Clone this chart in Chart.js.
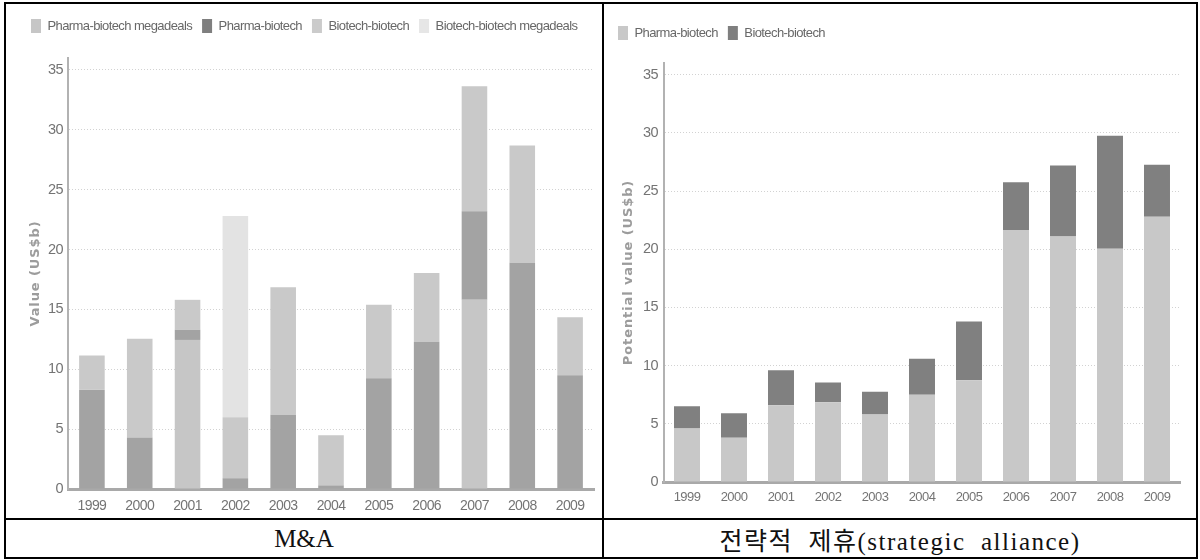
<!DOCTYPE html>
<html>
<head>
<meta charset="utf-8">
<title>Pharma / biotech deals 1999-2009</title>
<script src="https://cdn.jsdelivr.net/npm/chart.js@4/dist/chart.umd.min.js"></script>
<style>
  html, body { margin: 0; padding: 0; background: #fff; }
  body { width: 1200px; height: 560px; position: relative; overflow: hidden; }
  .rule { position: absolute; background: #000; }
  canvas { position: absolute; }
  .caption {
    position: absolute; top: 520px; height: 37px;
    display: flex; align-items: center; justify-content: center;
    font-family: 'Liberation Serif', 'Noto Sans CJK KR', serif;
    font-size: 25px; color: #111; white-space: pre;
  }
</style>
</head>
<body>
<!-- table frame -->
<div class="rule" style="left:4px;top:2px;width:1194px;height:2px"></div>
<div class="rule" style="left:4px;top:557px;width:1194px;height:2px"></div>
<div class="rule" style="left:4px;top:2px;width:2px;height:557px"></div>
<div class="rule" style="left:1196px;top:2px;width:2px;height:557px"></div>
<div class="rule" style="left:602px;top:2px;width:2px;height:557px"></div>
<div class="rule" style="left:4px;top:518px;width:1194px;height:2px"></div>

<canvas id="ma" width="596" height="514" style="left:6px;top:4px"></canvas>
<canvas id="alliance" width="592" height="514" style="left:604px;top:4px"></canvas>

<div class="caption" style="left:6px;width:596px">M&amp;A</div>
<div class="caption" style="left:604px;width:592px;letter-spacing:1.5px">전략적  제휴(strategic  alliance)</div>

<script>
// Years on the category axis
const years = ['1999', '2000', '2001', '2002', '2003', '2004', '2005', '2006', '2007', '2008', '2009'];

// M&A value, US$b
const maPharmaMega   = [0, 0, 12.45, 0, 0, 0, 0, 0, 15.8, 0, 0];
const maPharma       = [8.3, 4.3, 0.85, 0.9, 6.2, 0.3, 9.25, 12.3, 7.4, 18.9, 9.5];
const maBiotech      = [2.85, 8.25, 2.5, 5.1, 10.65, 4.2, 6.15, 5.75, 10.45, 9.8, 4.85];
const maBiotechMega  = [0, 0, 0, 16.8, 0, 0, 0, 0, 0, 0, 0];

// Strategic alliances, potential value, US$b
const alPharma  = [4.6, 3.8, 6.6, 6.85, 5.8, 7.5, 8.75, 21.65, 21.1, 20.05, 22.8];
const alBiotech = [1.9, 2.1, 3.0, 1.7, 1.95, 3.1, 5.05, 4.1, 6.1, 9.7, 4.45];

// Value axis ticks
const valueTicks = [0, 5, 10, 15, 20, 25, 30, 35];

const SANS = "'Liberation Sans', Arial, sans-serif";

// Adds extra room between the legend and the plot area
const legendGap = {
  id: 'legendGap',
  beforeLayout(chart, args, opts) {
    const lg = chart.legend;
    if (lg && !lg.__gapPatched) {
      const fit = lg.fit;
      lg.fit = function () { fit.call(this); this.height += (opts.gap || 0); };
      lg.__gapPatched = true;
    }
  }
};

// Tight letter spacing for labels, looser spacing for the value-axis title
const textSpacing = {
  id: 'textSpacing',
  beforeLayout(chart, args, opts) { chart.ctx.letterSpacing = opts.base; },
  beforeDraw(chart, args, opts) {
    chart.ctx.letterSpacing = opts.base;
    const y = chart.scales.y;
    if (y && !y.__spaced) {
      const drawTitle = y.drawTitle;
      y.drawTitle = function () {
        const ctx = this.ctx;
        const prev = ctx.letterSpacing;
        ctx.letterSpacing = opts.title;
        drawTitle.call(this);
        ctx.letterSpacing = prev;
      };
      y.__spaced = true;
    }
  }
};

function makeChart(id, cfg) {
  const legendFill = cfg.legendFill;
  return new Chart(document.getElementById(id), {
    type: 'bar',
    data: {
      labels: years,
      datasets: cfg.datasets.map(d => ({
        label: d.label,
        data: d.data,
        backgroundColor: d.color,
        borderWidth: 0,
        categoryPercentage: 1,
        barPercentage: cfg.barPct
      }))
    },
    plugins: [legendGap, textSpacing],
    options: {
      responsive: false,
      devicePixelRatio: 1,
      animation: false,
      layout: { padding: cfg.padding },
      plugins: {
        tooltip: { enabled: false },
        legendGap: { gap: cfg.gap },
        textSpacing: { base: '-0.6px', title: '0.9px' },
        legend: {
          position: 'top',
          align: 'start',
          labels: {
            boxWidth: 10,
            boxHeight: 14,
            padding: 10,
            color: '#686868',
            font: { family: SANS, size: 13 },
            generateLabels(chart) {
              const items = Chart.defaults.plugins.legend.labels.generateLabels(chart);
              items.forEach((it, i) => {
                it.fillStyle = legendFill[i];
                it.strokeStyle = legendFill[i];
                it.lineWidth = 0;
              });
              return items;
            }
          }
        }
      },
      scales: {
        x: {
          stacked: true,
          grid: { display: false, drawTicks: false },
          border: { display: true, color: '#a9a9a9', width: 3 },
          ticks: {
            color: '#747474',
            padding: cfg.xPad,
            maxRotation: 0,
            font: { family: SANS, size: cfg.xFont }
          },
          afterFit(scale) { scale.height = cfg.xHeight; }
        },
        y: {
          stacked: true,
          min: 0,
          max: 36,
          afterBuildTicks(scale) { scale.ticks = valueTicks.map(v => ({ value: v })); },
          afterFit(scale) { scale.width = cfg.yWidth; },
          grid: { color: '#d2d2d2', lineWidth: 1, drawTicks: false },
          border: { display: true, color: '#b2b2b2', width: 2, dash: [1, 2] },
          ticks: {
            color: '#747474',
            padding: cfg.yPad,
            font: { family: SANS, size: 14.5 }
          },
          title: {
            display: true,
            text: cfg.yTitle,
            color: '#9c9c9c',
            padding: { top: cfg.titlePad, bottom: 0 },
            font: { family: "'DejaVu Sans', Verdana, sans-serif", size: 13, weight: 'bold' }
          }
        }
      }
    }
  });
}

makeChart('ma', {
  datasets: [
    { label: 'Pharma-biotech megadeals', data: maPharmaMega,  color: '#c6c6c6' },
    { label: 'Pharma-biotech',           data: maPharma,      color: '#a3a3a3' },
    { label: 'Biotech-biotech',          data: maBiotech,     color: '#c9c9c9' },
    { label: 'Biotech-biotech megadeals', data: maBiotechMega, color: '#e3e3e3' }
  ],
  legendFill: ['#c6c6c6', '#7f7f7f', '#cbcbcb', '#e6e6e6'],
  barPct: 0.535,
  padding: { left: 15, top: 5, right: 8, bottom: 0 },
  gap: 15,
  yWidth: 47,
  yPad: 5,
  titlePad: 7,
  yTitle: 'Value (US$b)',
  xPad: 8.5,
  xFont: 14,
  xHeight: 29
});

makeChart('alliance', {
  datasets: [
    { label: 'Pharma-biotech',  data: alPharma,  color: '#c8c8c8' },
    { label: 'Biotech-biotech', data: alBiotech, color: '#808080' }
  ],
  legendFill: ['#c8c8c8', '#7f7f7f'],
  barPct: 0.553,
  padding: { left: 4, top: 12, right: 15.5, bottom: 0 },
  gap: 13,
  yWidth: 55.5,
  yPad: 5.5,
  titlePad: 12.5,
  yTitle: 'Potential value (US$b)',
  xPad: 7.5,
  xFont: 13,
  xHeight: 36
});
</script>
</body>
</html>
